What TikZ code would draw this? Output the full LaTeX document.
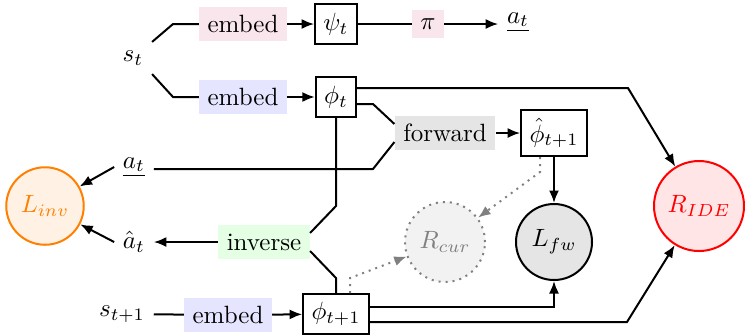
\documentclass[tikz,border=0pt]{standalone}
\usetikzlibrary{arrows.meta,calc}
\tikzset{
  line/.style={thick},
  arr/.style={thick,-{Latex[length=5pt,width=4pt]}},
  darr/.style={thick,gray,dotted,-{Latex[length=5pt,width=4pt]}},
  opbox/.style={inner sep=3.33pt},
  vbox/.style={draw,thick,inner sep=3.33pt,minimum height=16pt},
  lossc/.style={circle,thick,inner sep=1pt},
}
\begin{document}
\begin{tikzpicture}[x=0.4pt,y=-0.4pt]
\useasboundingbox (0,0) rectangle (745,335);
% nodes
\node (st) at (133,58) {$s_t$};
\node[opbox,fill=purple!10] (emb1) at (243,24) {embed};
\node[opbox,fill=blue!10] (emb2) at (243,97) {embed};
\node[vbox] (psit) at (336,24) {$\psi_t$};
\node[vbox] (phit) at (336,97) {$\phi_t$};
\node[opbox,fill=purple!10] (pi) at (428,24) {$\pi$};
\node (atop) at (518,22) {\underline{$a_t$}};
\node[opbox,fill=gray!20] (fwd) at (445,133) {forward};
\node[vbox,minimum height=18.5pt] (phihat) at (554,133) {$\hat{\phi}_{t+1}$};
\node (at) at (134,167) {\underline{$a_t$}};
\node (ahat) at (134,242) {$\hat{a}_t$};
\node[opbox,fill=green!10] (inv) at (264,242) {inverse};
\node[lossc,draw=orange,fill=orange!10,text=orange,minimum size=31pt] (Linv) at (45,206) {$L_{inv}$};
\node[lossc,draw=gray,dotted,fill=gray!10,text=gray,minimum size=32pt] (Rcur) at (445,242) {$R_{cur}$};
\node[lossc,draw,fill=gray!20,minimum size=30.4pt] (Lfw) at (554,242) {$L_{fw}$};
\node[lossc,draw=red,fill=red!10,text=red,minimum size=36pt] (Ride) at (699,206) {$R_{IDE}$};
\node (st1) at (122,314) {$s_{t+1}$};
\node[opbox,fill=blue!10] (emb3) at (228,315) {embed};
\node[vbox] (phit1) at (336,314) {$\phi_{t+1}$};
% connectors
\draw[line] (st.north east) -- (173,24) -- (emb1.west);
\draw[line] (st.south east) -- (173,97) -- (emb2.west);
\draw[arr] (emb1) -- (psit);
\draw[arr] (emb2) -- (phit);
\draw[line] (psit) -- (pi);
\draw[arr] (pi) -- (pi -| atop.west);
\draw[arr] ($(phit.east)+(0,-9)$) -- (628,88) -- (Ride);
\draw[line] ($(phit.east)+(0,7)$) -- (373,104) -- ($(fwd.west)+(0,-9)$);
\draw[line] (at.east |- 0,169) -- (373,169) -- ($(fwd.west)+(0,9)$);
\draw[arr] (fwd) -- (phihat);
\draw[arr] (phihat) -- (Lfw);
\draw[darr] ($(phihat.south)+(-14,0)$) -- (540,172) -- (Rcur);
\draw[arr] (at.west) -- (Linv);
\draw[arr] (ahat.west) -- (Linv);
\draw[arr] (inv) -- (ahat);
\draw[line] (phit.south) -- (336,206) -- ($(inv.east)+(0,-9)$);
\draw[line] (phit1.north) -- (336,278) -- ($(inv.east)+(0,9)$);
\draw[darr] ($(phit1.north)+(14,0)$) -- (350,278) -- (Rcur);
\draw[line] (st1) -- (emb3);
\draw[arr] (emb3) -- (phit1);
\draw[arr] ($(phit1.east)+(0,-7)$) -- (554,307) -- (Lfw);
\draw[arr] ($(phit1.east)+(0,8)$) -- (627,322) -- (Ride);
\end{tikzpicture}
\end{document}
